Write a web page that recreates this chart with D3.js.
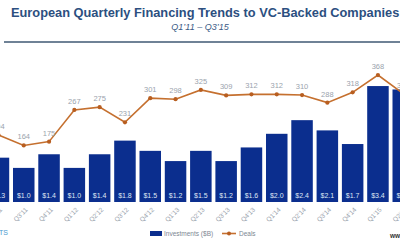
<!DOCTYPE html>
<html><head><meta charset="utf-8">
<script src="https://cdn.jsdelivr.net/npm/d3@7"></script>
<style>body{margin:0;background:#fff;}svg{display:block;font-family:"Liberation Sans",Arial,sans-serif;}</style>
</head><body>
<svg id="c" width="400" height="240"></svg>
<script>
const quarters = ["Q2'11","Q3'11","Q4'11","Q1'12","Q2'12","Q3'12","Q4'12","Q1'13","Q2'13","Q3'13","Q4'13","Q1'14","Q2'14","Q3'14","Q4'14","Q1'15","Q2'15"];
const investments = [1.3,1.0,1.4,1.0,1.4,1.8,1.5,1.2,1.5,1.2,1.6,2.0,2.4,2.1,1.7,3.4,3.3];
const deals = [194,164,175,267,275,231,301,298,325,309,312,312,310,288,318,368,314];
const title = "European Quarterly Financing Trends to VC-Backed Companies";
const subtitle = "Q1\u201911 \u2013 Q3\u201915";

const svg = d3.select("#c");
const base = 202;
const x = d3.scaleBand().domain(quarters).range([-14.2, -14.2 + 25.3*quarters.length]).paddingInner(0.15).paddingOuter(0.075);
const yBar = d3.scaleLinear().domain([0,4]).range([base, base-136.4]);
const yDeal = d3.scaleLinear().domain([0,400]).range([base, base-138]);

svg.append("text").attr("x",11).attr("y",17).attr("font-size",12.8).attr("font-weight","bold").attr("fill","#2c4f7f").text(title);
svg.append("text").attr("x",200).attr("y",30).attr("text-anchor","middle").attr("font-size",9).attr("font-style","italic").attr("fill","#3a5a85").text(subtitle);
svg.append("line").attr("x1",4).attr("x2",400).attr("y1",42).attr("y2",42).attr("stroke","#6f8296").attr("stroke-width",2);

const bw = x.bandwidth();
svg.append("g").selectAll("rect").data(quarters).join("rect")
  .attr("x",d=>x(d)).attr("width",bw)
  .attr("y",(d,i)=>yBar(investments[i])).attr("height",(d,i)=>base-yBar(investments[i]))
  .attr("fill","#0b2e8e");
svg.append("g").selectAll("text").data(quarters).join("text")
  .attr("x",d=>x(d)+bw/2).attr("y",198).attr("text-anchor","middle")
  .attr("font-size",7).attr("fill","#dfe6f5")
  .text((d,i)=>"$"+investments[i].toFixed(1));

const xc = d=>x(d)+bw/2;
const line = d3.line().x((d,i)=>xc(quarters[i])).y(d=>yDeal(d));
svg.append("path").datum(deals).attr("d",line).attr("fill","none").attr("stroke","#c5702f").attr("stroke-width",1.6);
svg.append("g").selectAll("circle").data(deals).join("circle")
  .attr("cx",(d,i)=>xc(quarters[i])).attr("cy",d=>yDeal(d)).attr("r",2.1).attr("fill","#b85e20");
svg.append("g").selectAll("text").data(deals).join("text")
  .attr("x",(d,i)=>xc(quarters[i])).attr("y",d=>yDeal(d)-6).attr("text-anchor","middle")
  .attr("font-size",7.5).attr("fill","#9aa3ad").text(d=>d);

const xAxis = svg.append("g").attr("transform",`translate(0,${base})`)
  .call(d3.axisBottom(x).tickSize(0).tickPadding(4));
xAxis.select(".domain").remove();
xAxis.selectAll("text").attr("font-size",6.5).attr("fill","#9aa3ad")
  .attr("font-family","Liberation Sans, Arial, sans-serif")
  .attr("text-anchor","end").attr("dy","0.3em").attr("dx","0")
  .attr("transform","translate(0,4) rotate(-45)");

const lg = svg.append("g").attr("transform","translate(150,234)");
lg.append("rect").attr("x",0).attr("y",-3).attr("width",12).attr("height",5).attr("fill","#0b2e8e");
lg.append("text").attr("x",14).attr("y",2).attr("font-size",6.5).attr("fill","#7d8792").text("Investments ($B)");
lg.append("line").attr("x1",72).attr("x2",86).attr("y1",-0.5).attr("y2",-0.5).attr("stroke","#c5702f").attr("stroke-width",1.6);
lg.append("circle").attr("cx",79).attr("cy",-0.5).attr("r",2).attr("fill","#b85e20");
lg.append("text").attr("x",89).attr("y",2).attr("font-size",6.5).attr("fill","#7d8792").text("Deals");

svg.append("text").attr("x",8).attr("y",235).attr("text-anchor","end").attr("font-size",7).attr("fill","#4a9ad0").text("CB INSIGHTS");
svg.append("text").attr("x",390).attr("y",238).attr("font-size",6.5).attr("font-weight","bold").attr("fill","#333").text("www.cbinsights.com");
</script>
</body></html>
